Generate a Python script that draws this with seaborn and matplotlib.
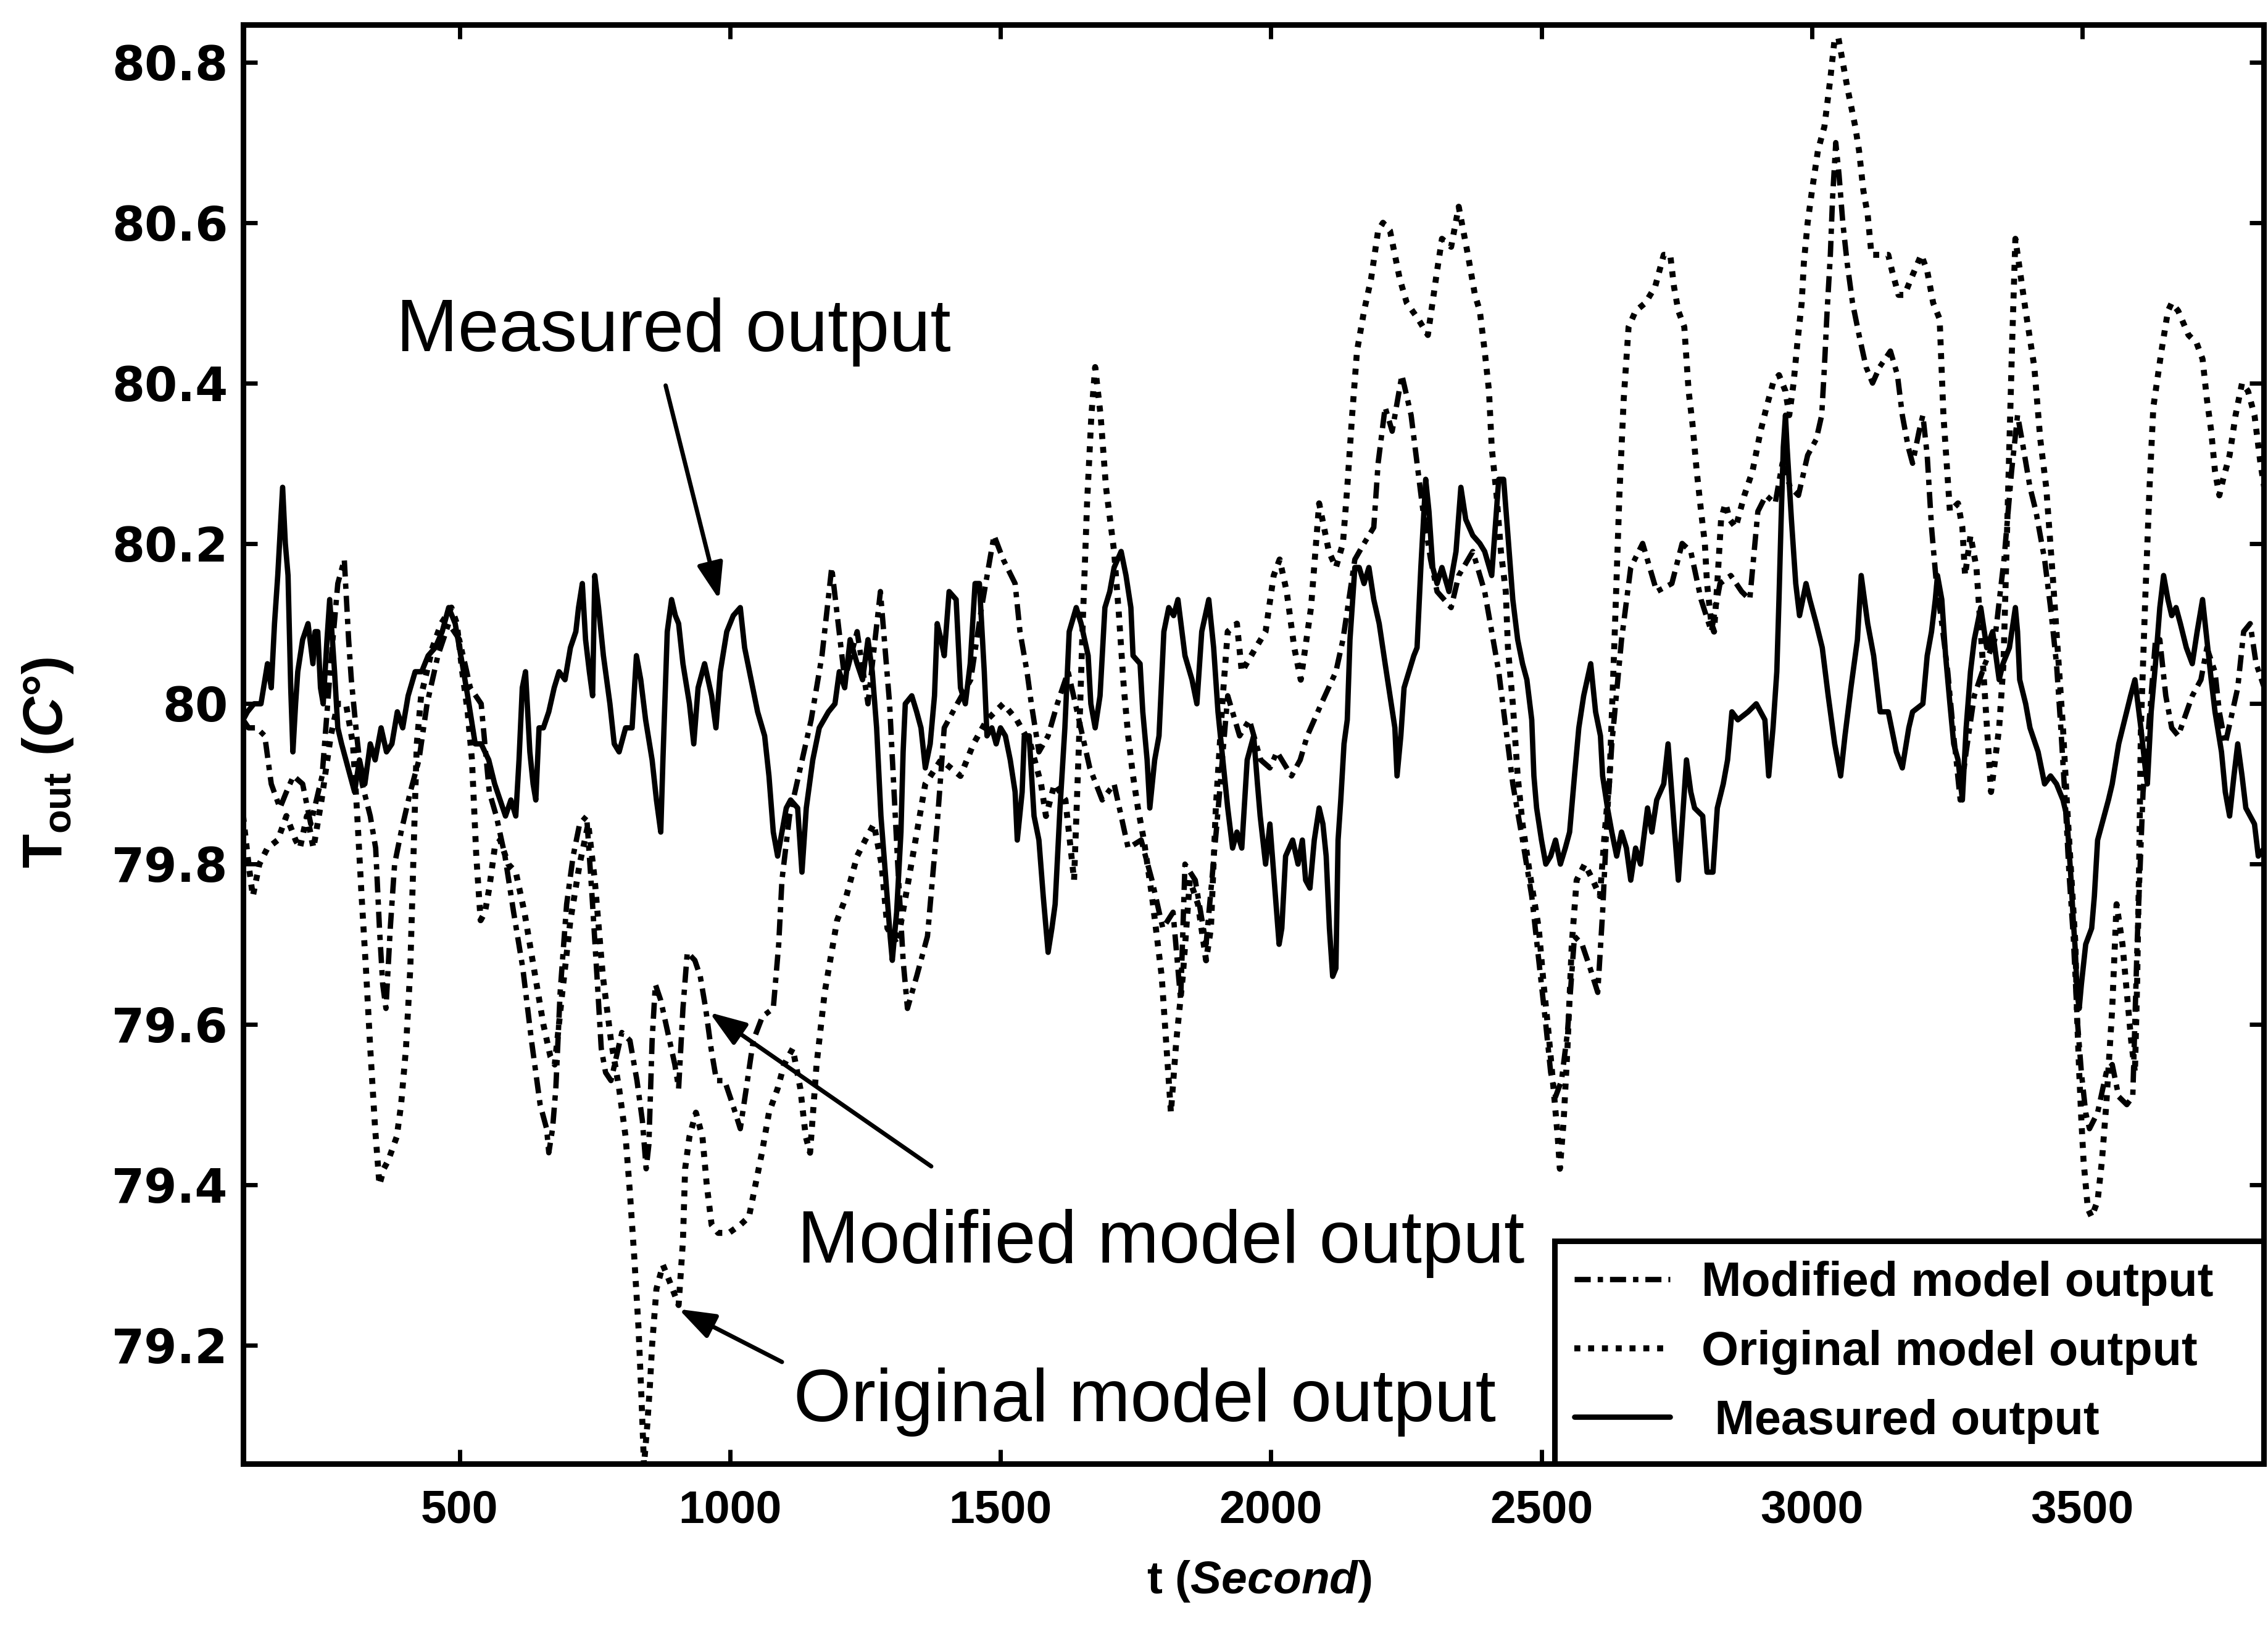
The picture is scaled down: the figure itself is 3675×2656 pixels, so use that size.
import matplotlib
matplotlib.use("Agg")
import matplotlib.pyplot as plt
import seaborn as sns
import pandas as pd
from matplotlib.lines import Line2D
from matplotlib import font_manager as fm

# ---------------- data ----------------
measured = [(100,79.98),(108,79.99),(120,80.00),(133,80.00),(145,80.05),(152,80.02),(158,80.10),(164,80.16),(173,80.27),(178,80.20),(183,80.16),(188,80.02),(192,79.94),(197,80.00),(201,80.04),(210,80.08),(220,80.10),(229,80.05),(233,80.09),(238,80.09),(243,80.02),(248,80.00),(255,80.08),(260,80.13),(265,80.08),(269,80.04),(275,79.97),(282,79.95),(290,79.93),(298,79.91),(306,79.89),(315,79.93),(325,79.90),(335,79.95),(344,79.93),(355,79.97),(365,79.94),(375,79.95),(385,79.99),(395,79.97),(405,80.01),(418,80.04),(430,80.04),(442,80.06),(455,80.07),(468,80.09),(480,80.12),(492,80.10),(505,80.05),(515,80.01),(529,79.95),(540,79.95),(554,79.93),(565,79.90),(575,79.88),(585,79.86),(595,79.88),(604,79.86),(610,79.93),(616,80.02),(622,80.04),(630,79.94),(636,79.90),(641,79.88),(647,79.97),(655,79.97),(665,79.99),(675,80.02),(684,80.04),(695,80.03),(705,80.07),(715,80.09),(720,80.12),(727,80.15),(733,80.08),(740,80.04),(746,80.01),(750,80.16),(757,80.12),(766,80.06),(778,80.00),(786,79.95),(795,79.94),(807,79.97),(819,79.97),(827,80.06),(835,80.03),(844,79.98),(856,79.93),(864,79.88),(872,79.84),(876,79.93),(884,80.09),(892,80.13),(899,80.11),(905,80.10),(913,80.05),(925,80.00),(933,79.95),(941,80.02),(953,80.05),(966,80.01),(974,79.97),(982,80.04),(994,80.09),(1006,80.11),(1019,80.12),(1027,80.07),(1039,80.03),(1051,79.99),(1064,79.96),(1072,79.91),(1080,79.84),(1088,79.81),(1096,79.84),(1104,79.87),(1112,79.88),(1125,79.87),(1133,79.79),(1141,79.87),(1153,79.93),(1165,79.97),(1182,79.99),(1194,80.00),(1202,80.04),(1212,80.02),(1222,80.08),(1235,80.05),(1245,80.03),(1255,80.08),(1263,80.04),(1271,79.97),(1279,79.86),(1287,79.79),(1296,79.71),(1300,79.68),(1308,79.74),(1316,79.84),(1320,79.94),(1324,80.00),(1336,80.01),(1345,79.99),(1353,79.97),(1361,79.92),(1370,79.95),(1378,80.01),(1383,80.10),(1390,80.08),(1396,80.06),(1405,80.14),(1418,80.13),(1426,80.02),(1435,80.00),(1444,80.05),(1453,80.15),(1461,80.15),(1470,80.04),(1475,79.96),(1484,79.97),(1492,79.95),(1500,79.97),(1509,79.96),(1518,79.93),(1527,79.89),(1531,79.83),(1540,79.89),(1544,79.96),(1553,79.96),(1562,79.86),(1571,79.83),(1579,79.76),(1588,79.69),(1595,79.72),(1601,79.75),(1610,79.87),(1619,79.97),(1627,80.09),(1640,80.12),(1649,80.10),(1662,80.06),(1667,80.00),(1675,79.97),(1684,80.01),(1693,80.12),(1702,80.14),(1710,80.17),(1723,80.19),(1732,80.16),(1741,80.12),(1745,80.06),(1758,80.05),(1763,79.99),(1771,79.93),(1776,79.87),(1785,79.93),(1793,79.96),(1802,80.09),(1811,80.12),(1820,80.11),(1828,80.13),(1841,80.06),(1854,80.03),(1863,80.00),(1872,80.09),(1885,80.13),(1894,80.07),(1902,79.99),(1911,79.93),(1920,79.87),(1929,79.82),(1937,79.84),(1946,79.82),(1956,79.93),(1968,79.96),(1975,79.90),(1980,79.86),(1990,79.80),(1998,79.85),(2007,79.77),(2015,79.70),(2020,79.72),(2027,79.81),(2040,79.83),(2050,79.80),(2058,79.83),(2064,79.78),(2072,79.77),(2080,79.83),(2089,79.87),(2096,79.85),(2102,79.81),(2108,79.72),(2114,79.66),(2120,79.67),(2124,79.83),(2129,79.88),(2135,79.95),(2141,79.98),(2146,80.08),(2155,80.17),(2163,80.17),(2172,80.15),(2181,80.17),(2190,80.13),(2200,80.10),(2211,80.05),(2220,80.01),(2229,79.97),(2233,79.91),(2240,79.96),(2246,80.02),(2255,80.04),(2264,80.06),(2270,80.07),(2277,80.17),(2286,80.28),(2292,80.24),(2299,80.17),(2307,80.15),(2316,80.17),(2329,80.14),(2342,80.19),(2351,80.27),(2360,80.23),(2373,80.21),(2386,80.20),(2395,80.19),(2408,80.16),(2421,80.28),(2430,80.28),(2438,80.21),(2447,80.13),(2456,80.08),(2465,80.05),(2473,80.03),(2482,79.98),(2486,79.91),(2491,79.87),(2500,79.83),(2508,79.80),(2517,79.81),(2526,79.83),(2535,79.80),(2544,79.82),(2552,79.84),(2561,79.91),(2569,79.97),(2578,80.01),(2591,80.05),(2600,79.99),(2609,79.96),(2613,79.91),(2622,79.87),(2630,79.84),(2639,79.81),(2648,79.84),(2657,79.82),(2665,79.78),(2674,79.82),(2683,79.80),(2696,79.87),(2704,79.84),(2713,79.88),(2726,79.90),(2734,79.95),(2745,79.85),(2753,79.78),(2760,79.85),(2768,79.93),(2776,79.89),(2783,79.87),(2798,79.86),(2806,79.79),(2817,79.79),(2825,79.87),(2836,79.90),(2844,79.93),(2852,79.99),(2863,79.98),(2882,79.99),(2897,80.00),(2913,79.98),(2920,79.91),(2928,79.97),(2935,80.04),(2939,80.13),(2943,80.23),(2947,80.32),(2951,80.36),(2954,80.32),(2962,80.23),(2970,80.15),(2977,80.11),(2989,80.15),(2996,80.13),(3008,80.10),(3019,80.07),(3030,80.01),(3042,79.95),(3053,79.91),(3061,79.96),(3072,80.02),(3084,80.08),(3091,80.16),(3103,80.10),(3114,80.06),(3126,79.99),(3141,79.99),(3156,79.94),(3167,79.92),(3179,79.97),(3186,79.99),(3205,80.00),(3213,80.06),(3221,80.09),(3228,80.13),(3232,80.16),(3240,80.13),(3247,80.06),(3255,80.00),(3262,79.95),(3270,79.93),(3278,79.88),(3285,79.97),(3293,80.04),(3300,80.08),(3312,80.12),(3323,80.07),(3334,80.09),(3346,80.03),(3353,80.05),(3365,80.07),(3376,80.12),(3380,80.09),(3384,80.03),(3395,80.00),(3403,79.97),(3418,79.94),(3430,79.90),(3441,79.91),(3452,79.90),(3464,79.88),(3471,79.86),(3479,79.78),(3483,79.73),(3487,79.69),(3490,79.64),(3494,79.62),(3498,79.65),(3506,79.70),(3517,79.72),(3522,79.76),(3528,79.83),(3536,79.85),(3548,79.88),(3555,79.90),(3567,79.95),(3578,79.98),(3589,80.01),(3597,80.03),(3608,79.97),(3616,79.92),(3620,79.90),(3627,79.99),(3635,80.05),(3643,80.12),(3650,80.16),(3658,80.13),(3665,80.11),(3673,80.12),(3681,80.10),(3692,80.07),(3703,80.05),(3712,80.09),(3722,80.13),(3730,80.08),(3738,80.03),(3745,79.99),(3757,79.94),(3764,79.89),(3772,79.86),(3780,79.91),(3787,79.95),(3795,79.91),(3802,79.87),(3810,79.86),(3818,79.85),(3825,79.81),(3836,79.82)]

modified = [(100,79.98),(110,79.97),(125,79.97),(140,79.96),(152,79.90),(168,79.87),(180,79.89),(193,79.91),(210,79.90),(225,79.85),(246,79.91),(262,80.05),(275,80.15),(287,80.18),(295,80.08),(300,80.03),(310,79.96),(320,79.90),(335,79.86),(345,79.82),(352,79.72),(358,79.65),(364,79.62),(372,79.72),(380,79.80),(392,79.84),(409,79.89),(425,79.93),(440,80.00),(460,80.06),(480,80.10),(500,80.08),(520,80.02),(540,80.00),(555,79.89),(568,79.86),(584,79.81),(600,79.74),(617,79.67),(633,79.58),(649,79.50),(661,79.47),(665,79.44),(672,79.47),(678,79.52),(686,79.64),(698,79.75),(710,79.81),(722,79.85),(735,79.86),(745,79.76),(755,79.65),(762,79.57),(770,79.54),(780,79.53),(790,79.56),(800,79.59),(815,79.58),(828,79.53),(838,79.48),(845,79.42),(850,79.45),(856,79.58),(862,79.65),(872,79.63),(885,79.59),(898,79.55),(905,79.52),(913,79.62),(921,79.69),(935,79.68),(945,79.66),(955,79.62),(965,79.57),(975,79.53),(990,79.53),(1005,79.50),(1019,79.47),(1030,79.52),(1043,79.58),(1060,79.61),(1080,79.62),(1090,79.70),(1096,79.78),(1110,79.86),(1130,79.92),(1150,79.98),(1170,80.06),(1188,80.17),(1200,80.10),(1212,80.03),(1235,80.09),(1255,80.00),(1278,80.14),(1295,80.00),(1310,79.80),(1320,79.68),(1328,79.62),(1345,79.66),(1365,79.71),(1383,79.85),(1396,79.97),(1420,80.00),(1445,80.03),(1465,80.12),(1488,80.21),(1505,80.18),(1527,80.15),(1536,80.09),(1549,80.04),(1557,80.00),(1571,79.94),(1588,79.96),(1605,80.00),(1625,80.04),(1645,79.98),(1665,79.92),(1688,79.88),(1710,79.90),(1736,79.82),(1760,79.83),(1780,79.78),(1800,79.72),(1819,79.74),(1833,79.63),(1841,79.80),(1860,79.78),(1880,79.70),(1900,79.85),(1920,80.01),(1942,79.96),(1960,79.98),(1981,79.93),(1998,79.92),(2011,79.94),(2038,79.91),(2054,79.93),(2067,79.96),(2093,80.00),(2120,80.04),(2133,80.08),(2155,80.18),(2172,80.20),(2190,80.22),(2198,80.30),(2211,80.37),(2224,80.34),(2242,80.41),(2259,80.36),(2270,80.30),(2281,80.24),(2295,80.18),(2307,80.14),(2333,80.12),(2347,80.16),(2373,80.19),(2395,80.14),(2421,80.04),(2447,79.90),(2465,79.83),(2482,79.76),(2495,79.68),(2508,79.60),(2517,79.54),(2526,79.51),(2537,79.53),(2548,79.59),(2561,79.71),(2575,79.70),(2590,79.67),(2604,79.64),(2613,79.74),(2620,79.84),(2630,79.95),(2648,80.08),(2665,80.17),(2687,80.20),(2713,80.14),(2741,80.15),(2760,80.20),(2776,80.19),(2795,80.13),(2814,80.09),(2830,80.15),(2850,80.16),(2870,80.14),(2885,80.13),(2900,80.24),(2915,80.26),(2932,80.25),(2945,80.30),(2960,80.27),(2975,80.26),(2992,80.31),(3008,80.33),(3018,80.36),(3023,80.42),(3028,80.49),(3034,80.56),(3038,80.63),(3044,80.70),(3050,80.66),(3057,80.60),(3065,80.55),(3075,80.50),(3087,80.46),(3100,80.42),(3112,80.40),(3125,80.42),(3145,80.44),(3158,80.41),(3167,80.36),(3178,80.32),(3186,80.30),(3198,80.34),(3205,80.36),(3213,80.31),(3221,80.22),(3230,80.15),(3240,80.10),(3251,80.04),(3262,79.96),(3274,79.88),(3285,79.94),(3300,80.01),(3320,80.05),(3338,80.08),(3355,80.18),(3369,80.29),(3380,80.36),(3388,80.33),(3403,80.27),(3414,80.24),(3430,80.18),(3441,80.12),(3452,80.05),(3460,79.97),(3468,79.88),(3475,79.79),(3483,79.71),(3490,79.61),(3498,79.54),(3506,79.49),(3513,79.47),(3528,79.49),(3544,79.54),(3555,79.55),(3567,79.51),(3582,79.50),(3593,79.51),(3601,79.70),(3612,79.89),(3620,79.95),(3635,80.08),(3643,80.08),(3654,80.01),(3665,79.97),(3677,79.96),(3703,80.01),(3719,80.03),(3730,80.07),(3745,80.04),(3753,79.99),(3764,79.95),(3787,80.02),(3798,80.09),(3810,80.10),(3821,80.05),(3836,80.02)]

original = [(100,79.86),(110,79.80),(118,79.76),(130,79.80),(145,79.82),(164,79.83),(180,79.86),(197,79.83),(205,79.82),(218,79.86),(230,79.82),(245,79.88),(262,79.96),(275,80.00),(290,80.00),(303,79.95),(311,79.86),(319,79.76),(327,79.67),(335,79.57),(344,79.47),(352,79.40),(360,79.42),(368,79.43),(384,79.46),(392,79.50),(401,79.57),(409,79.67),(417,79.86),(421,79.95),(429,80.01),(450,80.07),(466,80.10),(485,80.12),(495,80.10),(505,80.04),(515,79.99),(523,79.93),(531,79.81),(539,79.73),(547,79.74),(555,79.77),(565,79.82),(575,79.83),(590,79.80),(604,79.79),(620,79.74),(640,79.66),(655,79.60),(668,79.56),(676,79.55),(690,79.64),(705,79.73),(722,79.80),(738,79.85),(750,79.78),(765,79.66),(780,79.58),(795,79.52),(807,79.46),(815,79.39),(823,79.31),(831,79.22),(836,79.14),(841,79.05),(847,79.10),(852,79.15),(856,79.20),(864,79.27),(876,79.30),(888,79.28),(905,79.25),(913,79.33),(917,79.42),(925,79.46),(937,79.49),(949,79.46),(957,79.40),(966,79.35),(978,79.34),(998,79.34),(1019,79.35),(1035,79.36),(1047,79.40),(1059,79.44),(1072,79.49),(1088,79.52),(1100,79.55),(1116,79.57),(1130,79.52),(1140,79.46),(1148,79.44),(1160,79.55),(1175,79.64),(1198,79.73),(1215,79.76),(1235,79.81),(1250,79.83),(1266,79.85),(1280,79.80),(1291,79.72),(1309,79.70),(1330,79.78),(1361,79.90),(1390,79.93),(1426,79.91),(1450,79.95),(1475,79.98),(1505,80.00),(1530,79.98),(1555,79.95),(1575,79.90),(1584,79.86),(1600,79.90),(1620,79.88),(1636,79.78),(1645,79.95),(1652,80.10),(1660,80.25),(1668,80.36),(1675,80.42),(1685,80.36),(1695,80.27),(1710,80.19),(1719,80.11),(1728,80.02),(1736,79.96),(1745,79.91),(1754,79.87),(1765,79.83),(1780,79.76),(1798,79.66),(1808,79.56),(1815,79.49),(1825,79.58),(1837,79.66),(1850,79.78),(1865,79.75),(1880,79.68),(1889,79.72),(1898,79.87),(1911,80.01),(1920,80.09),(1937,80.10),(1946,80.04),(1972,80.07),(1990,80.09),(2005,80.16),(2016,80.18),(2029,80.14),(2043,80.07),(2055,80.03),(2074,80.12),(2089,80.25),(2098,80.22),(2107,80.19),(2120,80.17),(2133,80.20),(2141,80.27),(2150,80.36),(2159,80.44),(2172,80.49),(2185,80.53),(2198,80.59),(2207,80.60),(2220,80.59),(2238,80.53),(2251,80.50),(2272,80.48),(2290,80.46),(2307,80.54),(2316,80.58),(2333,80.57),(2347,80.62),(2364,80.56),(2377,80.51),(2386,80.49),(2395,80.44),(2403,80.39),(2408,80.32),(2417,80.26),(2425,80.19),(2434,80.14),(2438,80.07),(2447,80.00),(2456,79.91),(2465,79.85),(2478,79.79),(2495,79.72),(2504,79.65),(2513,79.59),(2521,79.53),(2530,79.46),(2534,79.42),(2541,79.48),(2548,79.57),(2556,79.70),(2565,79.78),(2580,79.80),(2595,79.78),(2608,79.76),(2617,79.84),(2626,79.91),(2635,80.08),(2644,80.26),(2652,80.38),(2661,80.47),(2674,80.49),(2692,80.50),(2710,80.52),(2726,80.56),(2738,80.56),(2745,80.52),(2753,80.49),(2764,80.47),(2768,80.43),(2772,80.39),(2779,80.35),(2787,80.29),(2795,80.24),(2802,80.20),(2806,80.15),(2814,80.10),(2819,80.09),(2825,80.15),(2832,80.23),(2840,80.25),(2848,80.23),(2859,80.22),(2875,80.26),(2890,80.29),(2905,80.34),(2916,80.37),(2928,80.40),(2939,80.41),(2951,80.39),(2958,80.36),(2966,80.40),(2973,80.45),(2981,80.50),(2985,80.55),(2992,80.60),(3000,80.64),(3011,80.69),(3023,80.72),(3034,80.78),(3042,80.83),(3049,80.83),(3057,80.80),(3065,80.77),(3080,80.72),(3087,80.69),(3095,80.64),(3103,80.61),(3110,80.56),(3126,80.56),(3141,80.56),(3148,80.54),(3160,80.51),(3171,80.51),(3183,80.53),(3202,80.56),(3213,80.54),(3224,80.50),(3236,80.48),(3243,80.36),(3255,80.24),(3270,80.25),(3278,80.22),(3283,80.16),(3293,80.21),(3304,80.17),(3316,80.05),(3331,79.89),(3346,79.97),(3354,80.05),(3362,80.25),(3370,80.45),(3376,80.58),(3395,80.49),(3411,80.42),(3422,80.33),(3433,80.27),(3445,80.16),(3456,80.05),(3464,79.97),(3471,79.88),(3479,79.79),(3487,79.70),(3490,79.61),(3494,79.54),(3498,79.48),(3502,79.43),(3510,79.37),(3517,79.36),(3528,79.38),(3536,79.43),(3544,79.50),(3555,79.62),(3563,79.75),(3574,79.70),(3582,79.64),(3590,79.58),(3597,79.54),(3601,79.65),(3605,79.81),(3608,79.97),(3616,80.13),(3624,80.27),(3631,80.37),(3646,80.44),(3658,80.49),(3665,80.50),(3677,80.49),(3696,80.46),(3711,80.45),(3722,80.43),(3730,80.38),(3738,80.34),(3745,80.29),(3753,80.26),(3760,80.28),(3772,80.31),(3783,80.36),(3795,80.40),(3806,80.39),(3818,80.36),(3829,80.30),(3836,80.27)]

series_labels = ["Modified model output", "Original model output", " Measured output"]
x_ticks = [500, 1000, 1500, 2000, 2500, 3000, 3500]
x_tick_labels = ["500", "1000", "1500", "2000", "2500", "3000", "3500"]
y_ticks = [79.2, 79.4, 79.6, 79.8, 80.0, 80.2, 80.4, 80.6, 80.8]
y_tick_labels = ["79.2", "79.4", "79.6", "79.8", "80", "80.2", "80.4", "80.6", "80.8"]
annotation_texts = ["Measured output", "Modified model output", "Original model output"]

# ---------------- style ----------------
sns.set_style("ticks")
available = {f.name for f in fm.fontManager.ttflist}
NARROW = "Liberation Sans Narrow" if "Liberation Sans Narrow" in available else "Liberation Sans"
narrow_scale = 1.0 if NARROW == "Liberation Sans Narrow" else 0.9
plt.rcParams["font.family"] = ["Liberation Sans", "DejaVu Sans"]
plt.rcParams["text.color"] = "black"
plt.rcParams["axes.labelcolor"] = "black"
plt.rcParams["xtick.color"] = "black"
plt.rcParams["ytick.color"] = "black"
plt.rcParams["mathtext.fontset"] = "custom"
plt.rcParams["mathtext.rm"] = "Liberation Sans:bold"
plt.rcParams["mathtext.it"] = "Liberation Sans:italic:bold"
plt.rcParams["mathtext.bf"] = "Liberation Sans:bold"
plt.rcParams["mathtext.default"] = "rm"

MOD_STYLE = (0, (3.0, 1.3, 1.0, 1.3))
ORIG_STYLE = (0, (1.0, 1.3))
LW = 2.5

fig = plt.figure(figsize=(3675 / 250, 2656 / 250), dpi=250)
ax = fig.add_axes([0.1072, 0.1069, 0.8909, 0.8780])

df_mod = pd.DataFrame(modified, columns=["t", "T"])
df_orig = pd.DataFrame(original, columns=["t", "T"])
df_meas = pd.DataFrame(measured, columns=["t", "T"])

sns.lineplot(data=df_mod, x="t", y="T", ax=ax, color="black", linewidth=LW,
             linestyle=MOD_STYLE, estimator=None, sort=True)
sns.lineplot(data=df_orig, x="t", y="T", ax=ax, color="black", linewidth=LW + 0.3,
             linestyle=ORIG_STYLE, estimator=None, sort=True)
sns.lineplot(data=df_meas, x="t", y="T", ax=ax, color="black", linewidth=LW,
             linestyle="-", estimator=None, sort=True)

ax.set_xlim(100, 3835)
ax.set_ylim(79.052, 80.847)

ax.set_xticks(x_ticks)
ax.set_xticklabels(x_tick_labels, family=[NARROW, "Liberation Sans"], fontweight="bold",
                   fontsize=24 * narrow_scale, color="black")
ax.set_yticks(y_ticks)
ax.set_yticklabels(y_tick_labels, family=["DejaVu Sans"], fontweight="bold", fontsize=22,
                   color="black")
ax.tick_params(axis="both", direction="in", length=6.5, width=2.0, top=True, right=True,
               colors="black")
ax.tick_params(axis="x", pad=12)
ax.tick_params(axis="y", pad=7)
for s in ax.spines.values():
    s.set_linewidth(2.6)
    s.set_color("black")

ax.set_xlabel(r"t ($\mathit{Second}$)", family=[NARROW, "Liberation Sans"], fontweight="bold",
              fontsize=24 * narrow_scale, color="black")
ax.xaxis.set_label_coords(0.503, -0.066)
ax.set_ylabel(r"T$_{\mathrm{out}}$ ($\mathit{C}$°)", family=[NARROW, "Liberation Sans"],
              fontweight="bold", fontsize=29 * narrow_scale, color="black")
ax.yaxis.set_label_coords(-0.083, 0.487)

# annotations
arrow_kw = dict(arrowstyle="-|>,head_length=0.45,head_width=0.16", color="black",
                lw=2.0, shrinkA=0, shrinkB=0, mutation_scale=32)
ax.annotate("", xy=(980, 80.13), xytext=(881, 80.397), arrowprops=arrow_kw)
ax.annotate("", xy=(962, 79.615), xytext=(1372, 79.423), arrowprops=arrow_kw)
ax.annotate("", xy=(905, 79.245), xytext=(1096, 79.179), arrowprops=arrow_kw)
ax.text(896, 80.44, annotation_texts[0], ha="center", va="baseline", fontsize=34.5,
        family="Liberation Sans", color="black")
ax.text(1125, 79.303, annotation_texts[1], ha="left", va="baseline", fontsize=34.5,
        family="Liberation Sans", color="black")
ax.text(1118, 79.105, annotation_texts[2], ha="left", va="baseline", fontsize=34.5,
        family="Liberation Sans", color="black")

handles = [Line2D([], [], color="black", lw=LW, linestyle=MOD_STYLE),
           Line2D([], [], color="black", lw=LW + 0.3, linestyle=ORIG_STYLE),
           Line2D([], [], color="black", lw=LW, linestyle="-")]
leg_size = 27.0 if NARROW == "Liberation Sans Narrow" else 22.3
leg = ax.legend(handles, series_labels, loc="lower left",
                bbox_to_anchor=(0.649, 0.0, 0.351, 0.163), mode="expand",
                borderaxespad=0.0, frameon=True, fancybox=False, framealpha=1.0,
                edgecolor="black", handlelength=2.0, handletextpad=0.65,
                labelspacing=0.5, borderpad=0.42,
                prop=fm.FontProperties(family=[NARROW, "Liberation Sans"], weight="bold",
                                       size=leg_size))
for txt in leg.get_texts():
    txt.set_color("black")
leg.get_frame().set_linewidth(2.6)
leg.set_zorder(10)

fig.savefig("out.png", dpi=250)
